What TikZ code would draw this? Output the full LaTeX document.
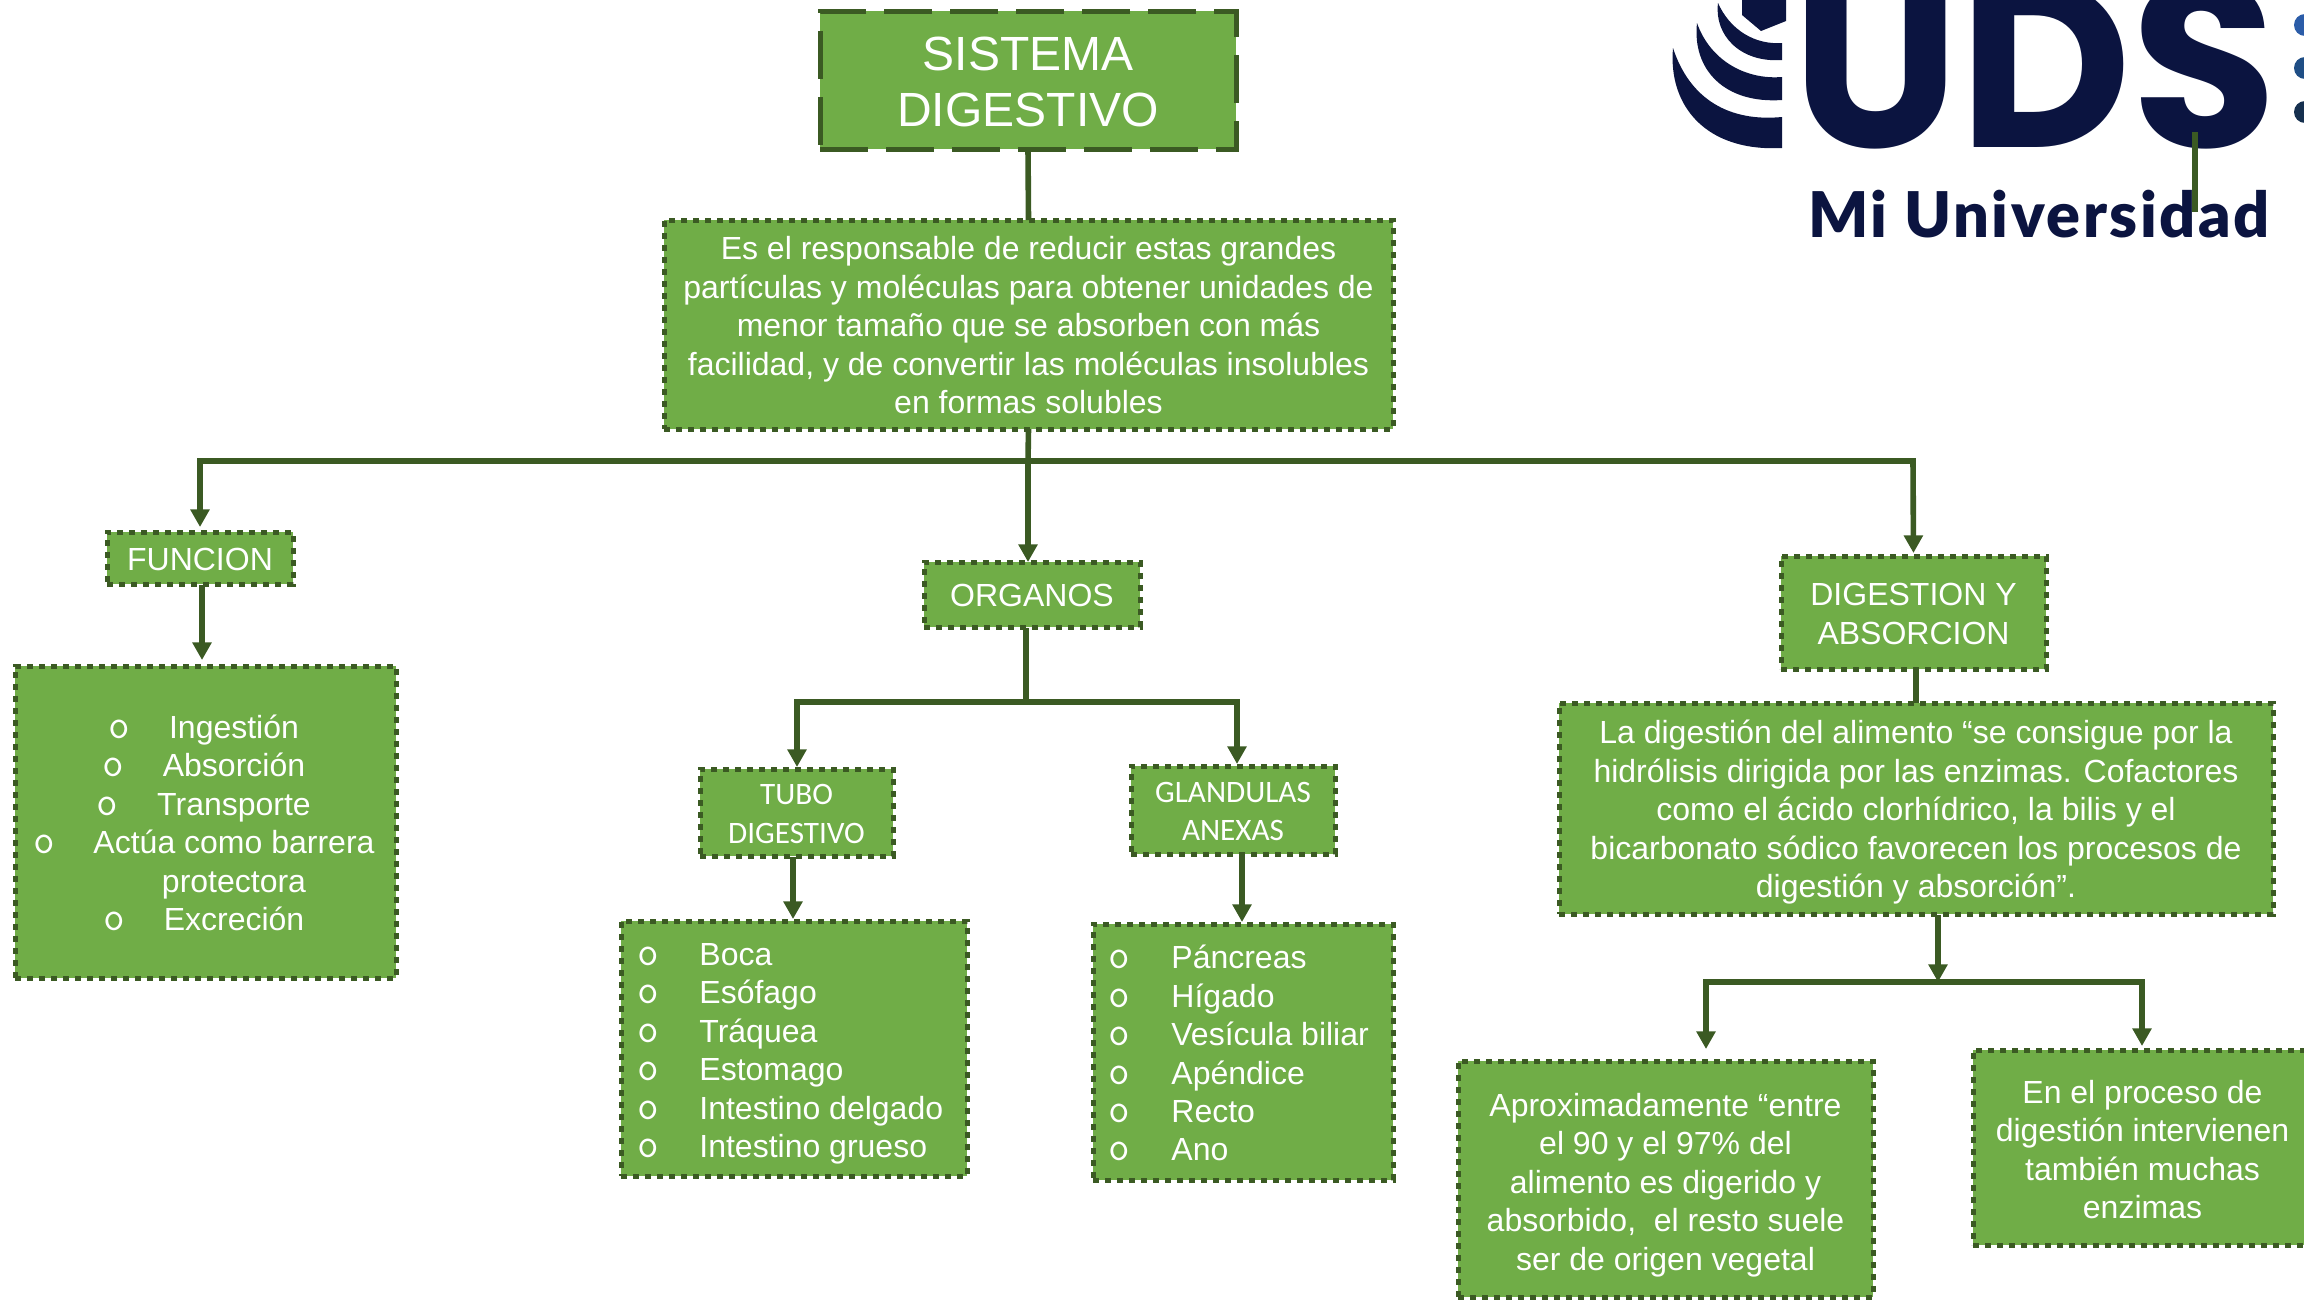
\documentclass[tikz,border=0pt]{standalone}
\usepackage{fontspec}
\usetikzlibrary{arrows.meta}
\setmainfont{Liberation Sans}
\newfontfamily\calfont{Carlito}
\newfontfamily\logofont{Poppins}[UprightFont=* Bold]
\newfontfamily\subfont{Lato}[UprightFont=* Black,LetterSpace=4]
\definecolor{boxgreen}{HTML}{70AD47}
\definecolor{linegreen}{HTML}{3B5A23}
\definecolor{navy}{HTML}{0B1440}
\definecolor{dotA}{HTML}{2B5CA8}
\definecolor{dotB}{HTML}{1F4E85}
\definecolor{dotC}{HTML}{16304F}
\newcommand{\bodyf}{\fontsize{16}{19.25}\selectfont}
\newcommand{\titlef}{\fontsize{24}{28.3}\selectfont}
\newcommand{\calf}{\fontsize{15.6}{19.3}\selectfont\calfont}
\tikzset{
  basebox/.style={fill=boxgreen,draw=linegreen,line width=2.5pt,inner sep=0pt,outer sep=0pt},
  dotbox/.style={basebox,dash pattern=on 3.1pt off 2.9pt},
  dashbox/.style={basebox,dash pattern=on 24pt off 9pt},
  boxtxt/.style={text=white,align=center,inner sep=0pt,font=\bodyf},
  titletxt/.style={boxtxt,font=\titlef},
  caltxt/.style={boxtxt,font=\calf},
  link/.style={draw=linegreen,line width=2.8pt},
  arrowlink/.style={link,-{Triangle[length=8.8pt,width=9.2pt]},shorten >=#1*0.5pt},
  itemtxt/.style={anchor=base west,text=white,font=\bodyf,inner sep=0pt},
  ctrtxt/.style={anchor=base,text=white,font=\bodyf,inner sep=0pt},
  bullet/.style={anchor=base,text=white,font=\ttfamily\fontsize{21}{21}\selectfont,inner sep=0pt}
}
% name, x1,y1,x2,y2, box style, text style with shift, text
\newcommand{\bx}[8]{\node[#6,minimum width={(#4-#2)*0.5pt},minimum height={(#5-#3)*0.5pt}] (#1) at ({(#2+#4)/2},{(#3+#5)/2}) {};
  \node[#7] (#1txt) at (#1) {#8};}
\begin{document}
\begin{tikzpicture}[x=0.5pt,y=-0.5pt]
\useasboundingbox (0,0) rectangle (2304,1301);
% logo
\begin{scope}
\clip (0,0) rectangle (2304,1301);
\fill[navy] (1673,48) .. controls (1668,105) and (1705,152) .. (1782,148) -- (1782,117) .. controls (1730,122) and (1690,100) .. (1673,48) -- cycle;
\fill[navy] (1697,23) .. controls (1692,70) and (1725,104) .. (1782,100) -- (1782,77) .. controls (1745,80) and (1710,60) .. (1697,23) -- cycle;
\fill[navy] (1718,3) .. controls (1714,35) and (1740,63) .. (1782,60) -- (1782,43) .. controls (1755,45) and (1730,30) .. (1718,3) -- cycle;
\fill[navy] (1742,0) -- (1742,15) -- (1761,31) -- (1786,21) -- (1786,0) -- cycle;
\fill[dotA] (2305,25) circle (11);
\fill[dotB] (2305,68) circle (11);
\fill[dotC] (2305,112) circle (11);
\node[anchor=base west,inner sep=0pt,text=navy,font=\logofont\fontsize{118.5}{120}\selectfont] (uds) at (1792,147) {UDS};
\end{scope}
\node[anchor=base west,inner sep=0pt,text=navy,font=\subfont\fontsize{31.5}{32}\selectfont] (mi) at (1808,237) {Mi Universidad};
% boxes
\bx{sis}{820}{11}{1236}{149}{dashbox}{titletxt,yshift=-1pt}{SISTEMA\\DIGESTIVO}
\bx{desc}{664}{220}{1393}{429}{dotbox}{boxtxt,yshift=-0.5pt}{Es el responsable de reducir estas grandes\\partículas y moléculas para obtener unidades de\\menor tamaño que se absorben con más\\facilidad, y de convertir las moléculas insolubles\\en formas solubles}
\bx{fun}{107}{532}{293}{584}{dotbox}{boxtxt,yshift=-0.7pt}{FUNCION}
\bx{org}{924}{562}{1140}{627}{dotbox}{boxtxt,yshift=-0.7pt}{ORGANOS}
\bx{dig}{1781}{556}{2046}{669}{dotbox}{boxtxt,yshift=-0.7pt}{DIGESTION Y\\ABSORCION}
\bx{fl}{15}{666}{396}{978}{dotbox}{boxtxt}{}
\bx{tubo}{700}{769}{893}{856}{dotbox}{caltxt,yshift=-0.7pt}{TUBO\\DIGESTIVO}
\bx{gla}{1131}{766}{1335}{854}{dotbox}{caltxt,yshift=-0.7pt}{GLANDULAS\\ANEXAS}
\bx{tl}{621}{921}{967}{1176}{dotbox}{boxtxt}{}
\bx{gl}{1093}{924}{1393}{1180}{dotbox}{boxtxt}{}
\bx{ladig}{1559}{703}{2273}{914}{dotbox}{boxtxt,yshift=-2pt}{La digestión del alimento “se consigue por la\\hidrólisis dirigida por las enzimas. Cofactores\\como el ácido clorhídrico, la bilis y el\\bicarbonato sódico favorecen los procesos de\\digestión y absorción”.}
\bx{apr}{1458}{1061}{1873}{1297}{dotbox}{boxtxt,yshift=-3pt}{Aproximadamente “entre\\el 90 y el 97\% del\\alimento es digerido y\\absorbido,\ \ el resto suele\\ser de origen vegetal}
\bx{enel}{1973}{1050}{2312}{1245}{dotbox}{boxtxt,yshift=-1pt}{En el proceso de\\digestión intervienen\\también muchas\\enzimas}
% funcion list
\node[ctrtxt] (f1) at (234,738) {Ingestión};
\node[ctrtxt] (f2) at (234,776) {Absorción};
\node[ctrtxt] (f3) at (234,815) {Transporte};
\node[ctrtxt] (f4) at (234,853) {Actúa como barrera};
\node[ctrtxt] (f5) at (234,892) {protectora};
\node[ctrtxt] (f6) at (234,930) {Excreción};
\node[bullet] (fb1) at (119,738) {o};
\node[bullet] (fb2) at (113,776) {o};
\node[bullet] (fb3) at (107,815) {o};
\node[bullet] (fb4) at (44,853) {o};
\node[bullet] (fb6) at (114,930) {o};
% tubo list
\foreach \n/\y/\t in {1/965/Boca,2/1003/Esófago,3/1042/Tráquea,4/1080/Estomago,5/1119/Intestino delgado,6/1157/Intestino grueso}{
  \node[bullet] (tb\n) at (648,\y) {o};
  \node[itemtxt] (t\n) at (699,\y) {\t};
}
% glandulas list
\foreach \n/\y/\t in {1/968/Páncreas,2/1007/Hígado,3/1045/Vesícula biliar,4/1084/Apéndice,5/1122/Recto,6/1160/Ano}{
  \node[bullet] (gb\n) at (1119,\y) {o};
  \node[itemtxt] (g\n) at (1171,\y) {\t};
}
% connectors
\coordinate (busL) at (200,461);
\coordinate (busC) at (1028,461);
\coordinate (busR) at (1913,461);
\coordinate (funX) at (202,585);
\coordinate (orgX) at (1026,628);
\coordinate (orgJ) at (1026,702);
\coordinate (orgL) at (797,702);
\coordinate (orgR) at (1237,702);
\coordinate (tuX) at (793,857);
\coordinate (glX) at (1242,855);
\coordinate (digX) at (1916,670);
\coordinate (diX) at (1938,915);
\coordinate (diJ) at (1938,982);
\coordinate (diL) at (1706,982);
\coordinate (diR) at (2142,982);
\coordinate (st1) at (2195,132);
\coordinate (st2) at (2195,212);
\draw[link] (sis.south) -- (desc.north);
\draw[link] (desc.south) -- (busC);
\draw[arrowlink=0] (busC) -- (busC |- org.north);
\draw[arrowlink=5] (busC) -- (busL) -- (busL |- fun.north);
\draw[arrowlink=3] (busC) -- (busR) -- (dig.north);
\draw[arrowlink=6] (funX) -- (funX |- fl.north);
\draw[link] (orgX) -- (orgJ);
\draw[arrowlink=2] (orgJ) -- (orgL) -- (orgL |- tubo.north);
\draw[arrowlink=2] (orgJ) -- (orgR) -- (orgR |- gla.north);
\draw[arrowlink=2] (tuX) -- (tuX |- tl.north);
\draw[arrowlink=2] (glX) -- (glX |- gl.north);
\draw[link] (digX) -- (digX |- ladig.north);
\draw[arrowlink=0] (diX) -- (diJ);
\draw[arrowlink=12] (diJ) -- (diL) -- (diL |- apr.north);
\draw[arrowlink=4] (diJ) -- (diR) -- (diR |- enel.north);
\draw[link] (st1) -- (st2);
\end{tikzpicture}
\end{document}
